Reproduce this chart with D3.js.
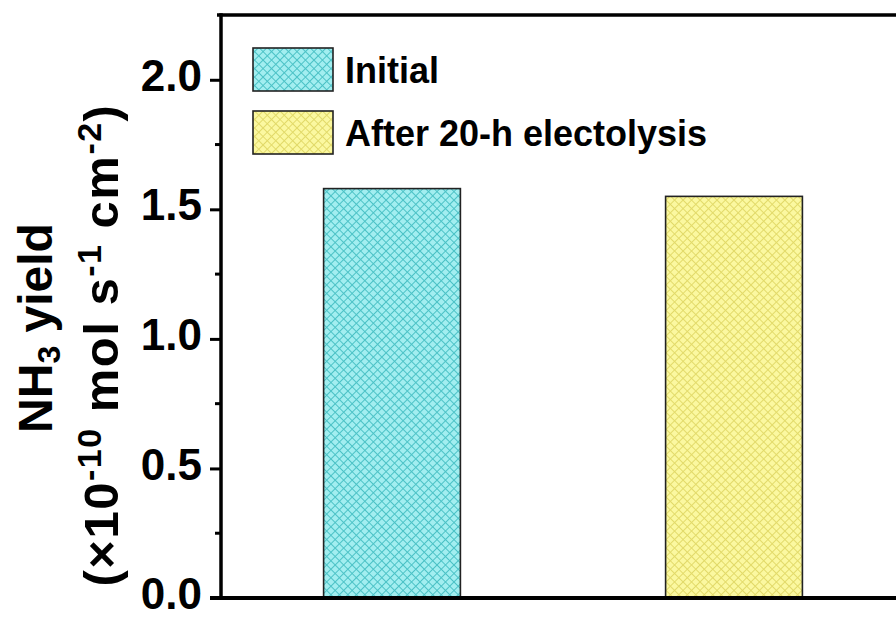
<!DOCTYPE html>
<html>
<head>
<meta charset="utf-8">
<script src="https://cdn.jsdelivr.net/npm/d3@7"></script>
<style>
  html, body { margin: 0; padding: 0; background: #fff; }
  svg { display: block; font-family: "Liberation Sans", Arial, sans-serif; font-weight: bold; }
</style>
</head>
<body>
<svg id="chart" width="896" height="619"></svg>
<script>
// NH3 yield before and after long-term electrolysis
const categories = ["Initial", "After 20-h electolysis"];
const yields = [1.58, 1.55];
const yTicks = [0.0, 0.5, 1.0, 1.5, 2.0];
const yMinorTicks = [0.25, 0.75, 1.25, 1.75];
const fills = [
  { id: "hatchCyan", base: "#a2eef0", line: "#4cc2c6" },
  { id: "hatchYellow", base: "#fbf8a0", line: "#e2da6a" }
];

const svg = d3.select("#chart");
const margin = { left: 221, top: 15, right: -9, bottom: 21 };
const W = 896, H = 619;
const x0 = margin.left, x1 = W - margin.right;
const y0 = H - margin.bottom, y1 = margin.top;

const x = d3.scaleBand().domain(categories).range([x0, x1])
  .paddingInner(0.6).paddingOuter(0.3);
const y = d3.scaleLinear().domain([0, 2.25]).range([y0, y1]);

// crosshatch patterns
const defs = svg.append("defs");
fills.forEach(f => {
  const p = defs.append("pattern").attr("id", f.id)
    .attr("patternUnits", "userSpaceOnUse")
    .attr("width", 6).attr("height", 6)
    .attr("patternTransform", "rotate(45)");
  p.append("rect").attr("width", 6).attr("height", 6).attr("fill", f.base);
  p.append("line").attr("x1", 0).attr("y1", 0).attr("x2", 0).attr("y2", 6)
    .attr("stroke", f.line).attr("stroke-width", 2);
  p.append("line").attr("x1", 0).attr("y1", 0).attr("x2", 6).attr("y2", 0)
    .attr("stroke", f.line).attr("stroke-width", 2);
});

// bars
svg.append("g").selectAll("rect").data(categories).join("rect")
  .attr("x", d => x(d))
  .attr("y", (d, i) => y(yields[i]))
  .attr("width", x.bandwidth())
  .attr("height", (d, i) => y(0) - y(yields[i]))
  .attr("fill", (d, i) => `url(#${fills[i].id})`)
  .attr("stroke", "#222").attr("stroke-width", 1.6);

// frame: top and right edges
svg.append("path")
  .attr("d", `M${x0 - 4},${y1} H${x1} V${y0}`)
  .attr("fill", "none").attr("stroke", "#000").attr("stroke-width", 3.5);

// y axis
const yAxis = d3.axisLeft(y).tickValues(yTicks).tickFormat(d3.format(".1f"))
  .tickSize(11).tickPadding(8);
const gy = svg.append("g").attr("transform", `translate(${x0},0)`).call(yAxis);
gy.select(".domain").remove();
gy.selectAll(".tick line").attr("stroke", "#000").attr("stroke-width", 3);
gy.selectAll(".tick text")
  .attr("font-size", 44).attr("font-weight", "bold")
  .attr("font-family", "Liberation Sans, Arial, sans-serif")
  .attr("fill", "#000").attr("dy", "0.24em");
svg.append("g").selectAll("line").data(yMinorTicks).join("line")
  .attr("x1", x0 - 6).attr("x2", x0).attr("y1", d => y(d)).attr("y2", d => y(d))
  .attr("stroke", "#000").attr("stroke-width", 3);
svg.append("line").attr("x1", x0).attr("x2", x0).attr("y1", y1 - 1.75).attr("y2", y0)
  .attr("stroke", "#000").attr("stroke-width", 3.5);

// x axis (no labels)
svg.append("line").attr("x1", x0 - 11).attr("x2", x1).attr("y1", y0).attr("y2", y0)
  .attr("stroke", "#000").attr("stroke-width", 4);

// y axis title, two lines
const t1 = svg.append("text").attr("transform", "translate(52,328) rotate(-90)")
  .attr("text-anchor", "middle").attr("font-size", 48);
t1.append("tspan").text("NH");
t1.append("tspan").text("3").attr("font-size", 32).attr("dy", 8);
t1.append("tspan").text(" yield").attr("dy", -8);

const t2 = svg.append("text").attr("transform", "translate(118,345) rotate(-90)")
  .attr("text-anchor", "middle").attr("font-size", 49).attr("letter-spacing", 1.5);
t2.append("tspan").text("(\u00d710");
t2.append("tspan").text("-10").attr("font-size", 34).attr("dy", -17);
t2.append("tspan").text(" mol s").attr("dy", 17);
t2.append("tspan").text("-1").attr("font-size", 34).attr("dy", -17);
t2.append("tspan").text(" cm").attr("dy", 17);
t2.append("tspan").text("-2").attr("font-size", 34).attr("dy", -17);
t2.append("tspan").text(")").attr("dy", 17);

// legend
const legend = svg.append("g");
categories.forEach((c, i) => {
  const ly = 48 + i * 63;
  legend.append("rect").attr("x", 253).attr("y", ly).attr("width", 80).attr("height", 43)
    .attr("fill", `url(#${fills[i].id})`).attr("stroke", "#222").attr("stroke-width", 1.6);
  legend.append("text").attr("x", 345).attr("y", ly + 35)
    .attr("font-size", 36).attr("fill", "#000").text(c);
});
</script>
</body>
</html>
